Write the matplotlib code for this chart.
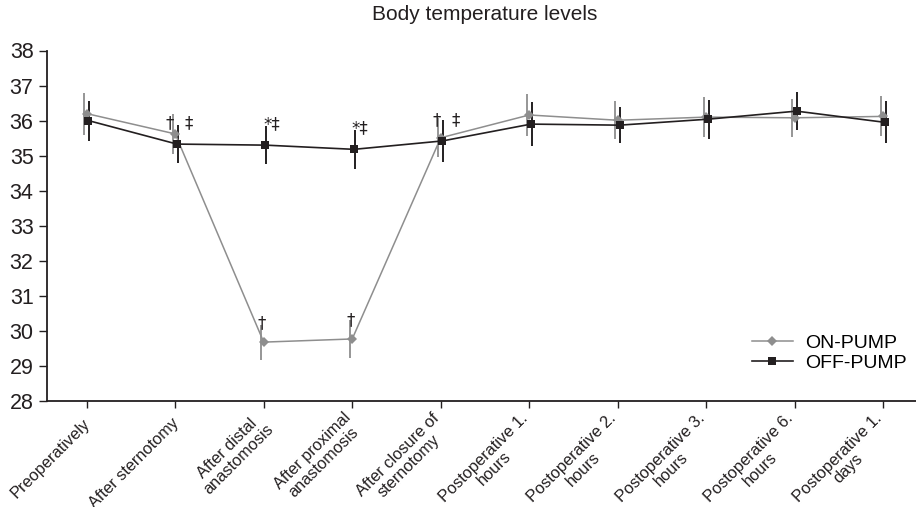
import numpy as np
import matplotlib
matplotlib.use("Agg")
import matplotlib.pyplot as plt

plt.rcParams["font.family"] = ["Liberation Sans", "DejaVu Sans"]

STAGES = [
    "Preoperatively",
    "After sternotomy",
    "After distal\nanastomosis",
    "After proximal\nanastomosis",
    "After closure of\nsternotomy",
    "Postoperative 1.\nhours",
    "Postoperative 2.\nhours",
    "Postoperative 3.\nhours",
    "Postoperative 6.\nhours",
    "Postoperative 1.\ndays",
]
ON_PUMP = [36.2, 35.62, 29.68, 29.77, 35.51, 36.16, 36.01, 36.1, 36.08, 36.12]
ON_PUMP_ERR = [0.6, 0.57, 0.5, 0.55, 0.55, 0.6, 0.54, 0.56, 0.55, 0.57]
OFF_PUMP = [36.0, 35.33, 35.3, 35.18, 35.42, 35.9, 35.87, 36.04, 36.27, 35.95]
OFF_PUMP_ERR = [0.57, 0.55, 0.55, 0.55, 0.6, 0.63, 0.51, 0.56, 0.55, 0.6]

# significance marks drawn next to the points
SIG_UPPER_STAGES = [1, 1, 2, 3, 4, 4]
SIG_UPPER_LABELS = ["\u2020", "\u2021", "*\u2021", "*\u2021", "\u2020", "\u2021"]
SIG_LOWER_STAGES = [2, 3]
SIG_LOWER_LABELS = ["\u2020", "\u2020"]

GREY = "#8e8e8e"
DARK = "#231f20"

fig = plt.figure(figsize=(9.16, 5.07), dpi=100)
ax = fig.add_axes([46.7 / 916, 1 - 401 / 507, (916 - 46.7) / 916, (401 - 50.5) / 507])

x = np.arange(len(STAGES))
ax.errorbar(x - 0.03, ON_PUMP, yerr=ON_PUMP_ERR, fmt="none", ecolor=GREY,
            elinewidth=1.3, capsize=0, zorder=2)
ax.errorbar(x + 0.03, OFF_PUMP, yerr=OFF_PUMP_ERR, fmt="none", ecolor=DARK,
            elinewidth=1.4, capsize=0, zorder=3)
ax.plot(x, ON_PUMP, color=GREY, lw=1.1, marker="D", ms=5.4, mew=0,
        label="ON-PUMP", zorder=4)
ax.plot(x + 0.02, OFF_PUMP, color=DARK, lw=1.2, marker="s", ms=6.2, mew=0,
        label="OFF-PUMP", zorder=5)

# upper marks: placed beside the OFF-PUMP error bars
dx_upper = [-0.06, 0.15, 0.09, 0.09, -0.05, 0.17]
for st, lab, dx in zip(SIG_UPPER_STAGES, SIG_UPPER_LABELS, dx_upper):
    ax.text(st + dx, OFF_PUMP[st] + 0.6, lab, ha="center", va="center",
            fontsize=12, color=DARK, family=["DejaVu Sans"])
for st, lab in zip(SIG_LOWER_STAGES, SIG_LOWER_LABELS):
    ax.text(st - 0.02, ON_PUMP[st] + 0.55, lab, ha="center", va="center",
            fontsize=12, color=DARK, family=["DejaVu Sans"])

ax.set_xlim(-0.452, 9.37)
ax.set_ylim(28, 38)
ax.set_yticks(range(28, 39))
ax.set_xticks(x)
ax.set_xticklabels(STAGES, rotation=45, ha="right", va="center_baseline",
                   rotation_mode="anchor", multialignment="center",
                   linespacing=1.1)

for side in ["top", "right"]:
    ax.spines[side].set_visible(False)
for side in ["left", "bottom"]:
    ax.spines[side].set_linewidth(1.3)
    ax.spines[side].set_color(DARK)

ax.tick_params(axis="y", labelsize=15.5, length=5.5, width=1, pad=4,
               color=DARK, labelcolor=DARK)
ax.tick_params(axis="x", labelsize=11.8, length=5, width=1, pad=8.5,
               color=DARK, labelcolor=DARK)

fig.text(485 / 916, 1 - 15 / 507, "Body temperature levels", ha="center",
         va="center", fontsize=15, color=DARK)

ax.legend(loc="center left", bbox_to_anchor=(752 / 916, 1 - 353 / 507),
          bbox_transform=fig.transFigure, frameon=False, fontsize=14,
          handlelength=2.1, handletextpad=0.65, labelspacing=0.15,
          borderpad=0, borderaxespad=0)

fig.savefig("out.png", dpi=100)
